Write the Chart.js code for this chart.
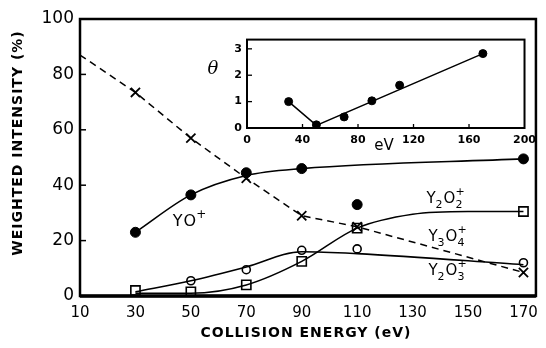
<!DOCTYPE html>
<html><head><meta charset="utf-8">
<script src="https://cdn.jsdelivr.net/npm/chart.js@4/dist/chart.umd.min.js"></script>
<style>
html,body{margin:0;padding:0;background:#fff;}
#wrap{position:relative;width:546px;height:348px;}
#main{position:absolute;left:0;top:0;}
#inset{position:absolute;left:200px;top:28px;}
</style></head>
<body><div id="wrap"><canvas id="main" width="546" height="348"></canvas><canvas id="inset" width="342" height="130"></canvas></div>
<script>
// ---- data ----
const energies = [30, 50, 70, 90, 110, 170];
const yoPlus   = [23, 36.5, 44.5, 46, 33, 49.5];
const y3o4Plus = [73.5, 57, 42.5, 29, 25, 8.5];
const y2o2Plus = [2, 1.5, 4, 12.5, 24.5, 30.5];
const y2o3Plus = [1.5, 5.5, 9.5, 16.5, 17, 12];
// drawn (fitted) curves
const yoFitE   = [30, 50, 70, 90, 170];
const yoFitV   = [23, 36.5, 43.5, 46, 49.5];
const y3o4FitE = [10, 30, 50, 70, 90, 110, 170];
const y3o4FitV = [87, 73.5, 57, 42.5, 29, 25, 8.5];
const y2o2FitE = [30, 50, 70, 90, 110, 130, 150, 170];
const y2o2FitV = [1, 1, 4, 12.5, 24.5, 29.5, 30.5, 30.5];
const y2o3FitE = [30, 50, 70, 90, 110, 170];
const y2o3FitV = [1.5, 5.5, 10.5, 16, 15.3, 11.3];
const xTicks = [10, 30, 50, 70, 90, 110, 130, 150, 170];
const yTicks = [0, 20, 40, 60, 80, 100];
// inset
const thetaE = [30, 50, 70, 90, 110, 170];
const theta  = [1.0, 0.12, 0.42, 1.03, 1.62, 2.82];
const thetaFitE = [30, 50, 170];
const thetaFitV = [1.0, 0.1, 2.82];
const insetXTicks = [0, 40, 80, 120, 160, 200];
const insetYTicks = [0, 1, 2, 3];

const pts = (xs, ys) => xs.map((x, i) => ({x, y: ys[i]}));
const FONT = "'DejaVu Sans', sans-serif";

function drawFormula(ctx, parts, cx, cy, size) {
  const big = size + "px " + FONT, small = Math.round(size * 0.72) + "px " + FONT;
  let w = 0;
  const widths = parts.map(p => {
    ctx.font = big; let a = ctx.measureText(p.t).width;
    ctx.font = small;
    let b = Math.max(p.sub ? ctx.measureText(p.sub).width : 0, p.sup ? ctx.measureText(p.sup).width : 0);
    w += a + b + 1; return [a, b];
  });
  let x = cx - w / 2;
  ctx.fillStyle = '#000'; ctx.textBaseline = 'middle'; ctx.textAlign = 'left';
  parts.forEach((p, i) => {
    ctx.font = big; ctx.fillText(p.t, x, cy); x += widths[i][0];
    ctx.font = small;
    if (p.sub) ctx.fillText(p.sub, x, cy + size * 0.38);
    if (p.sup) ctx.fillText(p.sup, x, cy - size * 0.45);
    x += widths[i][1] + 1;
  });
}

const mainDeco = {
  id: 'mainDeco',
  afterDraw(chart) {
    const ctx = chart.ctx, a = chart.chartArea;
    const ys = chart.scales.y;
    ctx.save();
    ctx.strokeStyle = '#000';
    ctx.lineWidth = 2.5;
    ctx.strokeRect(a.left, a.top, a.right - a.left, a.bottom - a.top);
    ctx.lineWidth = 3.5;
    ctx.beginPath(); ctx.moveTo(a.left, a.bottom); ctx.lineTo(a.right, a.bottom); ctx.stroke();
    ctx.lineWidth = 1.5;
    yTicks.slice(1, -1).forEach(v => {
      const p = ys.getPixelForValue(v);
      ctx.beginPath(); ctx.moveTo(a.left, p); ctx.lineTo(a.left + 6, p); ctx.stroke();
    });
    // axis titles
    ctx.fillStyle = '#000';
    ctx.font = "bold 14px " + FONT;
    try { ctx.letterSpacing = '1px'; } catch (e) {}
    ctx.textAlign = 'center'; ctx.textBaseline = 'middle';
    ctx.fillText('COLLISION ENERGY (eV)', 306, 333);
    ctx.translate(18, 143); ctx.rotate(-Math.PI / 2);
    ctx.fillText('WEIGHTED INTENSITY (%)', 0, 0);
    ctx.setTransform(1, 0, 0, 1, 0, 0);
    try { ctx.letterSpacing = '0px'; } catch (e) {}
    // series labels
    drawFormula(ctx, [{t:'Y'}, {t:'O', sup:'+'}], 190, 222, 16);
    drawFormula(ctx, [{t:'Y', sub:'2'}, {t:'O', sub:'2', sup:'+'}], 446, 199, 15);
    drawFormula(ctx, [{t:'Y', sub:'3'}, {t:'O', sub:'4', sup:'+'}], 448, 237, 15);
    drawFormula(ctx, [{t:'Y', sub:'2'}, {t:'O', sub:'3', sup:'+'}], 448, 271, 15);
    ctx.restore();
  }
};

new Chart(document.getElementById('main'), {
  type: 'scatter',
  data: {
    datasets: [
      {data: pts(yoFitE, yoFitV), showLine: true, borderColor: '#000', borderWidth: 1.6, pointRadius: 0, cubicInterpolationMode: 'monotone'},
      {data: pts(y3o4FitE, y3o4FitV), showLine: true, borderColor: '#000', borderWidth: 1.5, borderDash: [7, 5], pointRadius: 0},
      {data: pts(y2o2FitE, y2o2FitV), showLine: true, borderColor: '#000', borderWidth: 1.6, pointRadius: 0, cubicInterpolationMode: 'monotone'},
      {data: pts(y2o3FitE, y2o3FitV), showLine: true, borderColor: '#000', borderWidth: 1.6, pointRadius: 0, cubicInterpolationMode: 'monotone'},
      {data: pts(energies, yoPlus), pointStyle: 'circle', pointRadius: 5, backgroundColor: '#000', borderColor: '#000', borderWidth: 1},
      {data: pts(energies, y3o4Plus), pointStyle: 'crossRot', pointRadius: 6.5, borderColor: '#000', borderWidth: 1.8},
      {data: pts(energies, y2o2Plus), pointStyle: 'rect', pointRadius: 6.5, backgroundColor: '#fff', borderColor: '#000', borderWidth: 1.6},
      {data: pts(energies, y2o3Plus), pointStyle: 'circle', pointRadius: 4, backgroundColor: '#fff', borderColor: '#000', borderWidth: 1.6}
    ]
  },
  options: {
    responsive: false, animation: false,
    layout: {padding: {top: 19, right: 5, left: 0, bottom: 0}},
    plugins: {legend: {display: false}, tooltip: {enabled: false}},
    elements: {point: {hoverRadius: 0}},
    scales: {
      x: {
        type: 'linear', min: 10, max: 174.5,
        afterBuildTicks: s => { s.ticks = xTicks.map(v => ({value: v})); },
        afterFit: s => { s.height = 52; },
        grid: {display: false, drawTicks: false}, border: {display: false},
        ticks: {color: '#000', font: {family: FONT, size: 15}, padding: 8, maxRotation: 0, autoSkip: false}
      },
      y: {
        type: 'linear', min: 0, max: 100,
        afterBuildTicks: s => { s.ticks = yTicks.map(v => ({value: v})); },
        afterFit: s => { s.width = 80; },
        grid: {display: false, drawTicks: false}, border: {display: false},
        ticks: {color: '#000', font: {family: FONT, size: 17}, padding: 6}
      }
    }
  },
  plugins: [mainDeco]
});

const insetDeco = {
  id: 'insetDeco',
  afterDraw(chart) {
    const ctx = chart.ctx, a = chart.chartArea;
    const xs = chart.scales.x, ys = chart.scales.y;
    ctx.save();
    ctx.strokeStyle = '#000';
    ctx.lineWidth = 2;
    ctx.strokeRect(a.left, a.top, a.right - a.left, a.bottom - a.top);
    ctx.lineWidth = 1.3;
    insetYTicks.slice(1).forEach(v => {
      const p = ys.getPixelForValue(v);
      ctx.beginPath(); ctx.moveTo(a.left, p); ctx.lineTo(a.left + 5, p); ctx.stroke();
    });
    insetXTicks.slice(1, -1).forEach(v => {
      const p = xs.getPixelForValue(v);
      ctx.beginPath(); ctx.moveTo(p, a.bottom); ctx.lineTo(p, a.bottom - 4); ctx.stroke();
    });
    ctx.fillStyle = '#000';
    ctx.textAlign = 'center'; ctx.textBaseline = 'middle';
    ctx.font = "15px " + FONT;
    ctx.fillText('eV', 184, 118);
    ctx.font = "italic 18px 'DejaVu Serif', serif";
    ctx.fillText('θ', 13, 41);
    ctx.restore();
  }
};

new Chart(document.getElementById('inset'), {
  type: 'scatter',
  data: {
    datasets: [
      {data: pts(thetaFitE, thetaFitV), showLine: true, borderColor: '#000', borderWidth: 1.5, pointRadius: 0},
      {data: pts(thetaE, theta), pointStyle: 'circle', pointRadius: 4, backgroundColor: '#000', borderColor: '#000', borderWidth: 1}
    ]
  },
  options: {
    responsive: false, animation: false,
    layout: {padding: {top: 10, right: 15, left: 0, bottom: 0}},
    plugins: {legend: {display: false}, tooltip: {enabled: false}},
    elements: {point: {hoverRadius: 0}},
    scales: {
      x: {
        type: 'linear', min: 0, max: 200,
        afterBuildTicks: s => { s.ticks = insetXTicks.map(v => ({value: v})); },
        afterFit: s => { s.height = 30; },
        grid: {display: false, drawTicks: false}, border: {display: false},
        ticks: {color: '#000', font: {family: FONT, size: 11, weight: 'bold'}, padding: 6, maxRotation: 0, autoSkip: false}
      },
      y: {
        type: 'linear', min: 0, max: 3.35,
        afterBuildTicks: s => { s.ticks = insetYTicks.map(v => ({value: v})); },
        afterFit: s => { s.width = 47; },
        grid: {display: false, drawTicks: false}, border: {display: false},
        ticks: {color: '#000', font: {family: FONT, size: 11, weight: 'bold'}, padding: 5}
      }
    }
  },
  plugins: [insetDeco]
});
</script>
</body></html>
